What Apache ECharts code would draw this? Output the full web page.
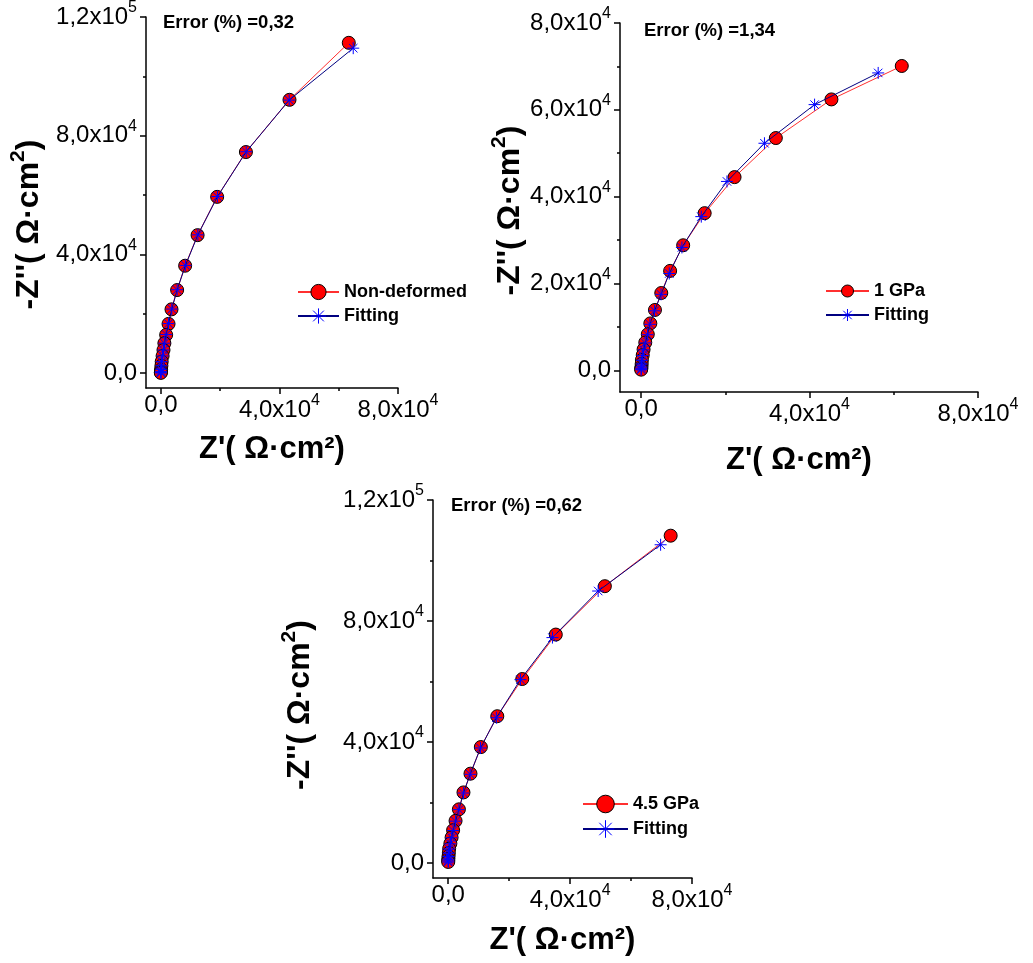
<!DOCTYPE html>
<html>
<head>
<meta charset="utf-8">
<script src="https://cdn.jsdelivr.net/npm/echarts@6/dist/echarts.min.js"></script>
<style>html,body{margin:0;padding:0;background:#fff}#c{width:1033px;height:963px}</style>
</head>
<body>
<div id="c"></div>
<script>
// ---------- DATA (Ω·cm²) ----------
const p1ExpZr = [63400,43400,28700,19000,12400,8200,5500,3600,2600,1800,1200,900,600,300,200,100,50,20,10];
const p1ExpZi = [111300,92100,74500,59400,46500,36200,28000,21500,16600,12900,10100,7800,5800,3900,2500,1300,600,250,100];
const p1FitZr = [64900,43300,28800,19100,12500,8300,5500,3700,2600,1800,1200,900,600,300,200,100,50,20,10];
const p1FitZi = [109500,92000,74600,59500,46600,36300,28100,21600,16700,13000,10100,7800,5800,3900,2500,1300,600,250,100];

const p2ExpZr = [61900,45200,32000,22200,15100,10000,6900,4800,3300,2200,1600,1000,600,400,200,150,100,50,20];
const p2ExpZi = [70100,62400,53500,44500,36200,28800,22900,17800,13900,10800,8300,6400,4800,3500,2400,1500,800,400,150];
const p2FitZr = [56300,41200,29300,20400,14300,9700,6700,4750,3200,2100,1550,1000,600,400,200,150,100,50,20];
const p2FitZi = [68500,61200,52300,43500,35400,28300,22300,17500,13700,10600,8200,6300,4700,3400,2300,1450,780,380,150];

const p3ExpZr = [73000,51400,35300,24300,16100,10700,7300,5000,3500,2400,1600,1100,700,300,200,100,50,0,0];
const p3ExpZi = [108200,91500,75500,60800,48500,38300,29500,23300,17700,13900,10800,8400,6400,4700,3300,2200,1300,700,300];
const p3FitZr = [69700,49200,34200,23700,15800,10600,7200,5000,3500,2400,1600,1100,700,300,200,100,50,0,0];
const p3FitZi = [105200,89900,74500,60600,48000,38000,29300,23100,17600,13800,10700,8300,6300,4600,3200,2100,1200,650,280];

const seriesNames = ['Non-deformed', '1 GPa', '4.5 GPa'];
const fitName = 'Fitting';
const errorTexts = ['Error (%) =0,32', 'Error (%) =1,34', 'Error (%) =0,62'];

// tick labels / ticks
const p1XLabels = [0, 40000, 80000];
const p1XMinor = [20000, 60000];
const p1YLabels = [0, 40000, 80000, 120000];
const p1YMinor = [20000, 60000, 100000];
const p2XLabels = [0, 40000, 80000];
const p2XMinor = [20000, 60000];
const p2YLabels = [0, 20000, 40000, 60000, 80000];
const p2YMinor = [10000, 30000, 50000, 70000];
const p3XLabels = [0, 40000, 80000];
const p3XMinor = [20000, 60000];
const p3YLabels = [0, 40000, 80000, 120000];
const p3YMinor = [20000, 60000, 100000];

const xName = "Z'( Ω·cm²)";
const yNameMain = "-Z''( Ω·cm";
const yNameSup = "2";
// ---------- END DATA ----------

const FONT = 'Liberation Sans';
const zip = (a, b) => a.map((v, i) => [v, b[i]]);

function sciLabel(v) {
  if (v === 0) return '{m|0,0}';
  const e = Math.floor(Math.log10(v) + 1e-9);
  const m = v / Math.pow(10, e);
  return '{m|' + m.toFixed(1).replace('.', ',') + 'x10}{s|' + e + '}';
}
const labelRich = {
  m: {fontSize: 24, fontFamily: FONT, color: '#000'},
  s: {fontSize: 16, fontFamily: FONT, color: '#000', padding: [0, 0, 18, 0]}
};

const panels = [
  {grid: {left: 146, top: 17, width: 252, height: 371},
   xr: [-5000, 80000], yr: [-5000, 120000],
   xl: p1XLabels, xm: p1XMinor, yl: p1YLabels, ym: p1YMinor,
   exp: zip(p1ExpZr, p1ExpZi), fit: zip(p1FitZr, p1FitZi),
   xGap: 46, yGap: 95, yPad: 44},
  {grid: {left: 620, top: 23, width: 358, height: 369},
   xr: [-5000, 80000], yr: [-5000, 80000],
   xl: p2XLabels, xm: p2XMinor, yl: p2YLabels, ym: p2YMinor,
   exp: zip(p2ExpZr, p2ExpZi), fit: zip(p2FitZr, p2FitZi),
   xGap: 53, yGap: 81, yPad: 6},
  {grid: {left: 433, top: 500, width: 259, height: 378},
   xr: [-5000, 80000], yr: [-5000, 120000],
   xl: p3XLabels, xm: p3XMinor, yl: p3YLabels, ym: p3YMinor,
   exp: zip(p3ExpZr, p3ExpZi), fit: zip(p3FitZr, p3FitZi),
   xGap: 47, yGap: 111, yPad: 32}
];

const STAR = 'path://M0,-10L0,10M-10,0L10,0M-7.07,-7.07L7.07,7.07M-7.07,7.07L7.07,-7.07';

const grid = [], xAxis = [], yAxis = [], series = [];
panels.forEach((p, i) => {
  grid.push(p.grid);
  xAxis.push({
    type: 'value', gridIndex: i, position: 'bottom', min: p.xr[0], max: p.xr[1],
    axisLine: {show: true, onZero: false, lineStyle: {color: '#000', width: 1.5}},
    axisTick: {show: true, customValues: p.xl, length: 6, lineStyle: {color: '#000', width: 1.5}},
    axisLabel: {customValues: p.xl, formatter: sciLabel, rich: labelRich, margin: 5},
    splitLine: {show: false},
    name: xName, nameLocation: 'middle', nameGap: p.xGap,
    nameTextStyle: {fontSize: 31, fontWeight: 'bold', fontFamily: FONT, color: '#000'}
  });
  xAxis.push({
    type: 'value', gridIndex: i, position: 'bottom', min: p.xr[0], max: p.xr[1],
    axisLine: {show: false, onZero: false},
    axisTick: {show: true, customValues: p.xm, length: 3, lineStyle: {color: '#000', width: 1.5}},
    axisLabel: {show: false}, splitLine: {show: false}
  });
  yAxis.push({
    type: 'value', gridIndex: i, position: 'left', min: p.yr[0], max: p.yr[1],
    axisLine: {show: true, onZero: false, lineStyle: {color: '#000', width: 1.5}},
    axisTick: {show: true, customValues: p.yl, length: 6, lineStyle: {color: '#000', width: 1.5}},
    axisLabel: {customValues: p.yl, formatter: sciLabel, rich: labelRich, margin: 9},
    splitLine: {show: false},
    name: '{n|' + yNameMain + '}{s|' + yNameSup + '}{n|)}',
    nameLocation: 'middle', nameGap: p.yGap,
    nameTextStyle: {
      padding: [0, p.yPad, 0, 0],
      rich: {
        n: {fontSize: 32, fontWeight: 'bold', fontFamily: FONT, color: '#000'},
        s: {fontSize: 21, fontWeight: 'bold', fontFamily: FONT, color: '#000', padding: [0, 0, 22, 0]}
      }
    }
  });
  yAxis.push({
    type: 'value', gridIndex: i, position: 'left', min: p.yr[0], max: p.yr[1],
    axisLine: {show: false, onZero: false},
    axisTick: {show: true, customValues: p.ym, length: 3, lineStyle: {color: '#000', width: 1.5}},
    axisLabel: {show: false}, splitLine: {show: false}
  });
  series.push({
    name: seriesNames[i], type: 'line', xAxisIndex: 2 * i, yAxisIndex: 2 * i,
    data: p.exp, symbol: 'circle', symbolSize: 13, showAllSymbol: true,
    itemStyle: {color: '#ff0000', borderColor: '#000', borderWidth: 1},
    lineStyle: {color: '#ff3030', width: 1}, z: 2
  });
  series.push({
    name: fitName, type: 'line', xAxisIndex: 2 * i, yAxisIndex: 2 * i,
    data: p.fit, symbol: STAR, symbolSize: 12, showAllSymbol: true,
    itemStyle: {color: '#0000ff', borderColor: '#0000ff', borderWidth: 1},
    lineStyle: {color: '#000080', width: 1}, z: 3
  });
});

const legendText = {fontSize: 18, fontWeight: 'bold', fontFamily: FONT, color: '#000', lineHeight: 20};
const legends = [
  {left: 297, top: 282, itemWidth: 41, itemHeight: 19, itemGap: 4, data: [seriesNames[0], fitName]},
  {left: 825, top: 281, itemWidth: 43, itemHeight: 15, itemGap: 4, data: [seriesNames[1], fitName]},
  {left: 582, top: 794, itemWidth: 45, itemHeight: 22, itemGap: 5, data: [seriesNames[2], fitName]}
].map(l => Object.assign({orient: 'vertical', padding: 0, textStyle: legendText, itemStyle: {borderWidth: 1}, selectedMode: false}, l));

const titleStyle = {fontSize: 18.5, fontWeight: 'bold', fontFamily: FONT, color: '#000'};
const titles = [
  {text: errorTexts[0], left: 163, top: 13},
  {text: errorTexts[1], left: 644, top: 21},
  {text: errorTexts[2], left: 451, top: 496}
].map(t => Object.assign({padding: 0, textStyle: titleStyle}, t));

const chart = echarts.init(document.getElementById('c'), null, {renderer: 'canvas'});
chart.setOption({
  animation: false,
  backgroundColor: '#fff',
  title: titles,
  legend: legends,
  grid: grid,
  xAxis: xAxis,
  yAxis: yAxis,
  series: series
});
</script>
</body>
</html>
